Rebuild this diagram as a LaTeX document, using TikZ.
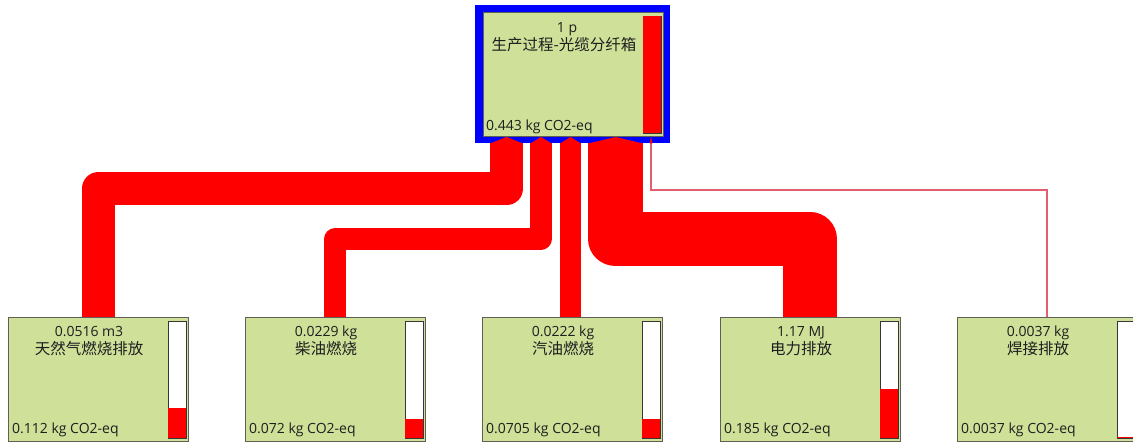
\documentclass[tikz,border=0pt]{standalone}
\usepackage{fontspec}
\setmainfont{Open Sans}
\newfontfamily\cjk{Noto Sans CJK SC}
\usetikzlibrary{calc}
\definecolor{boxgreen}{RGB}{207,224,153}
\definecolor{boxline}{RGB}{95,95,85}
\definecolor{barline}{RGB}{55,55,55}
\definecolor{linkred}{RGB}{255,0,0}
\definecolor{thinlink}{RGB}{225,95,110}
\definecolor{frameblue}{RGB}{0,0,255}
\definecolor{txt}{RGB}{30,30,30}
\newcommand\linktip[2]{\fill[linkred] ($(#1)+(-#2,0.5)$) -- ($(#1)+(0,-6)$) -- ($(#1)+(#2,0.5)$) -- cycle;}
\begin{document}
\begin{tikzpicture}[x=1pt,y=-1pt,
  procbox/.style={draw=boxline, line width=0.8pt, fill=boxgreen, minimum width=180pt, minimum height=124pt, inner sep=0pt, outer sep=0pt, anchor=north west},
  barbox/.style={draw=barline, line width=0.8pt, fill=white, minimum width=18pt, minimum height=117pt, inner sep=0pt, outer sep=0pt, anchor=north west},
  lbl/.style={inner sep=0pt, anchor=base, text=txt, font=\fontsize{14}{17}\selectfont},
  lblcjk/.style={lbl, font=\cjk\fontsize{15.5}{18}\selectfont},
  lblleft/.style={lbl, anchor=base west},
  band/.style={draw=linkred, line join=round, line cap=butt},
]
\useasboundingbox (0,0) rectangle (1133,443);
\clip (0,0) rectangle (1133,443);

% top process with blue frame
\node[draw=frameblue, line width=7.5pt, fill=boxgreen, minimum width=187.5pt, minimum height=131pt, inner sep=0pt, outer sep=0pt, anchor=north west] (top) at (479,8.5) {};
\draw[boxline, line width=0.8pt] (483,12.5) rectangle (663,136);
\node[lbl] (top-a) at (567,33) {1 p};
\node[lblcjk] (top-b) at (564,51) {生产过程-光缆分纤箱};
\node[lblleft] (top-c) at (486,131) {0.443 kg CO2-eq};
\node[barbox] (top-bar) at (643,16) {};
\fill[linkred] ($(top-bar.south west)+(0.4,-0.4)$) rectangle ($(top-bar.north east)+(-0.4,0.4)$);

% child processes
\foreach \nm/\xl/\la/\lb/\lc/\rh in {
  n1/8/{0.0516 m3}/{天然气燃烧排放}/{0.112 kg CO2-eq}/29.6,
  n2/245/{0.0229 kg}/{柴油燃烧}/{0.072 kg CO2-eq}/19.0,
  n3/482/{0.0222 kg}/{汽油燃烧}/{0.0705 kg CO2-eq}/18.6,
  n4/720/{1.17 MJ}/{电力排放}/{0.185 kg CO2-eq}/48.9,
  n5/957/{0.0037 kg}/{焊接排放}/{0.0037 kg CO2-eq}/1.2}
{
  \node[procbox] (\nm) at (\xl,317) {};
  \node[lbl] (\nm-a) at ($(\nm.north west)+(81,20)$) {\la};
  \node[lblcjk] (\nm-b) at ($(\nm.north west)+(81,38)$) {\lb};
  \node[lblleft] (\nm-c) at ($(\nm.south west)+(4,-7)$) {\lc};
  \node[barbox] (\nm-bar) at ($(\nm.north west)+(160,4)$) {};
  \fill[linkred] ($(\nm-bar.south west)+(0.4,-0.4)$) rectangle ($(\nm-bar.south east)+(-0.4,-\rh)$);
}

% attachment points and routing levels
\coordinate (t1) at (506.5,143);
\coordinate (t2) at (541,143);
\coordinate (t3) at (570.5,143);
\coordinate (t4) at (615.5,143);
\coordinate (t5) at (651,143);
\coordinate (h1) at (0,189);
\coordinate (h2) at (0,239);
\coordinate (h5) at (0,190);

% links
\draw[band, line width=33pt] (t1) -- (t1 |- h1) -| (n1.north);
\draw[band, line width=21.5pt] (t2) -- (t2 |- h2) -| (n2.north);
\draw[band, line width=21pt] (t3) -- (t3 |- n3.north);
\draw[band, line width=54.5pt] (t4) -- (t4 |- h2) -| (n4.north);
\draw[thinlink, line width=1.1pt] (t5) -- (t5 |- h5) -| (n5.north);

\linktip{t1}{16.5}
\linktip{t2}{10.75}
\linktip{t3}{10.5}
\linktip{t4}{27.25}
\linktip{t5}{1.5}
\end{tikzpicture}
\end{document}
